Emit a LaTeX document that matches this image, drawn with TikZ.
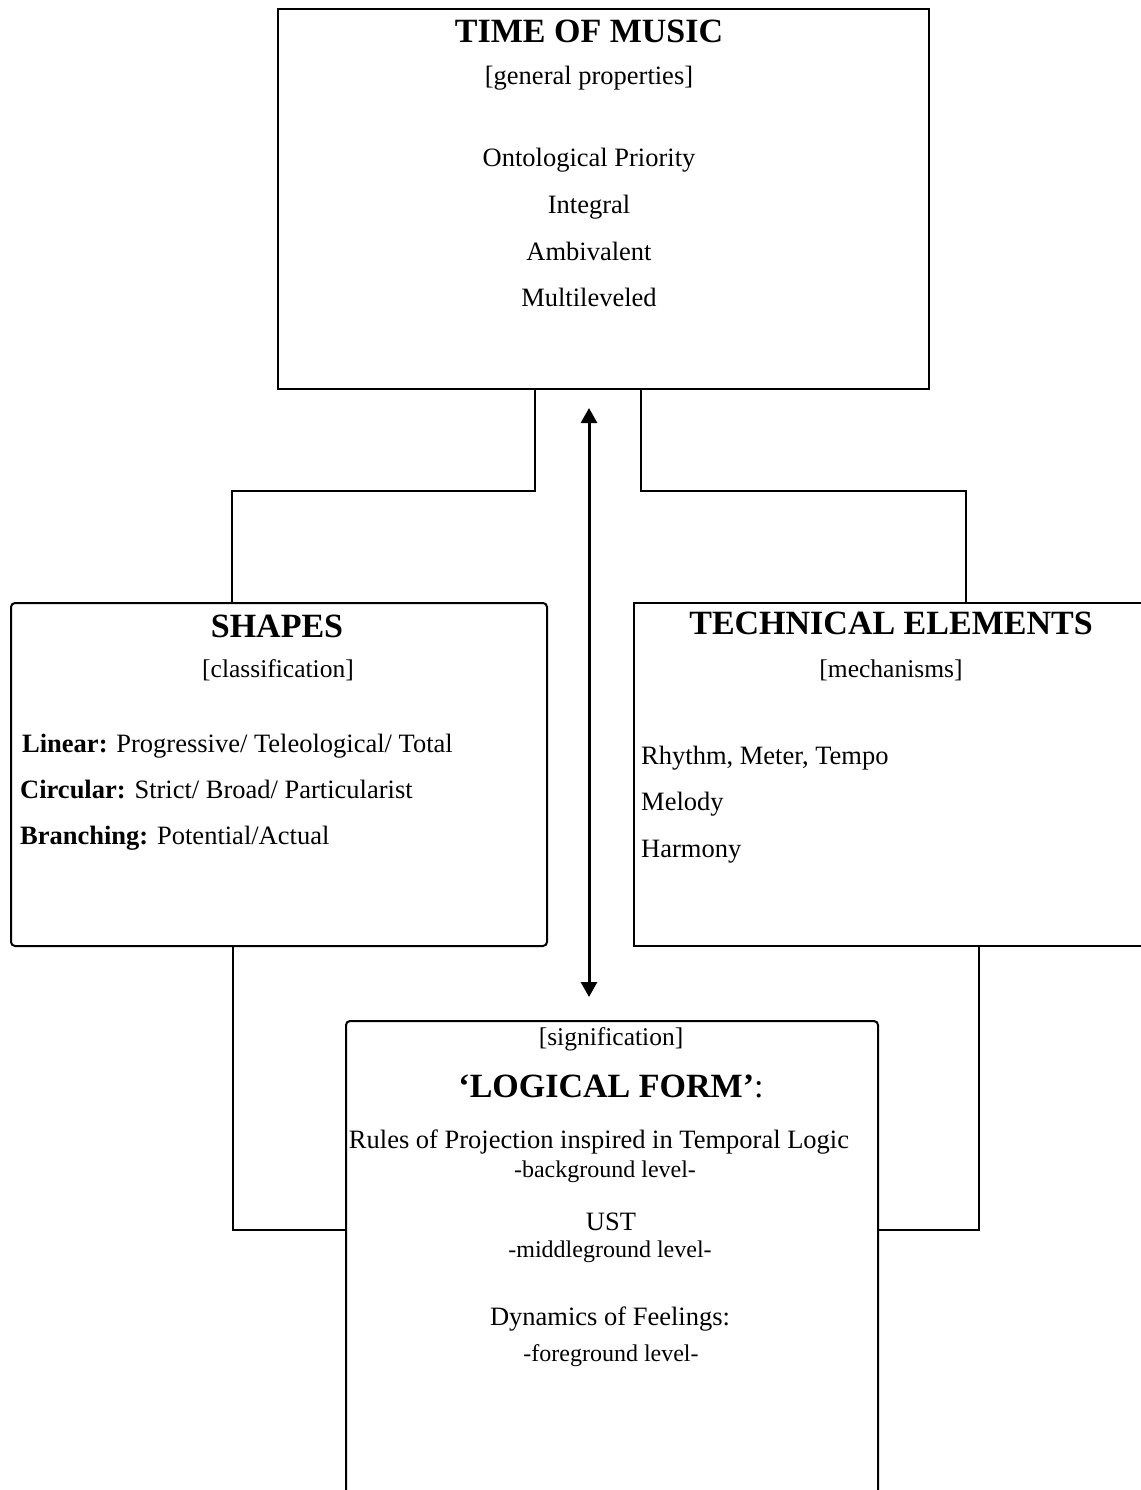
\documentclass[tikz,border=0pt]{standalone}
\usepackage{fontspec}
\setmainfont{Liberation Serif}
\usetikzlibrary{arrows.meta}
\begin{document}
\begin{tikzpicture}[x=1pt,y=-1pt,
  box/.style={draw, line width=2pt, inner sep=0pt, anchor=north west},
  rbox/.style={box, rounded corners=4pt},
  ttl/.style={font=\fontsize{34}{40}\selectfont\bfseries, anchor=base, inner sep=0pt},
  body/.style={font=\fontsize{26.5}{30}\selectfont, anchor=base, inner sep=0pt},
  sub/.style={font=\fontsize{25.5}{30}\selectfont, anchor=base, inner sep=0pt},
  bodyl/.style={body, anchor=base west},
  small/.style={font=\fontsize{24}{28}\selectfont, anchor=base, inner sep=0pt},
  conn/.style={line width=2pt}]
\useasboundingbox (0,0) rectangle (1140,1490);

% boxes
\node[box, minimum width=651pt, minimum height=380pt] (top) at (277,8) {};
\node[rbox, minimum width=536pt, minimum height=343pt] (shapes) at (10,602) {};
\node[box, minimum width=530pt, minimum height=343pt] (tech) at (633,602) {};
\node[rbox, minimum width=532pt, minimum height=500pt] (lf) at (345,1020) {};

% top box text
\node[ttl] (t1) at (589,43) {TIME OF MUSIC};
\node[body] (t2) at (589,85) {[general properties]};
\node[body] (t3) at (589,167) {Ontological Priority};
\node[body] (t4) at (589,213) {Integral};
\node[body] (t5) at (589,260) {Ambivalent};
\node[body] (t6) at (589,306) {Multileveled};

% shapes text
\node[ttl] (s1) at (277,637) {SHAPES};
\node[sub] (s2) at (278,677) {[classification]};
\node[bodyl] (s3) at (22,752) {\textbf{Linear:} Progressive/ Teleological/ Total};
\node[bodyl] (s4) at (20,798) {\textbf{Circular:} Strict/ Broad/ Particularist};
\node[bodyl] (s5) at (20,844) {\textbf{Branching:} Potential/Actual};

% technical text
\node[ttl] (e1) at (891,634) {TECHNICAL ELEMENTS};
\node[sub] (e2) at (891,677) {[mechanisms]};
\node[bodyl] (e3) at (641,764) {Rhythm, Meter, Tempo};
\node[bodyl] (e4) at (641,810) {Melody};
\node[bodyl] (e5) at (641,857) {Harmony};

% logical form text
\node[sub] (l1) at (611,1045) {[signification]};
\node[ttl] (l2) at (611,1097) {‘LOGICAL FORM’\textmd{:}};
\node[body] (l3) at (599,1148) {Rules of Projection inspired in Temporal Logic};
\node[small] (l4) at (605,1177) {-background level-};
\node[body] (l5) at (611,1230) {UST};
\node[small] (l6) at (610,1257) {-middleground level-};
\node[body] (l7) at (610,1325) {Dynamics of Feelings:};
\node[small] (l8) at (611,1361) {-foreground level-};

% connectors
\coordinate (tl) at (232,491);
\coordinate (tr) at (966,491);
\draw[conn] ([xshift=258pt]top.south west) |- (tl) -- (tl |- shapes.north);
\draw[conn] ([xshift=364pt]top.south west) |- (tr) -- (tr |- tech.north);

\coordinate (ljoin) at (233,1230);
\coordinate (rjoin) at (979,1230);
\draw[conn] ([xshift=223pt]shapes.south west) -- (ljoin) -- (ljoin -| lf.west);
\draw[conn] ([xshift=346pt]tech.south west) -- (rjoin) -- (rjoin -| lf.east);

\coordinate (aup) at (589,408);
\coordinate (adn) at (589,997);
\draw[line width=3pt, {Triangle[length=15pt,width=16pt]}-{Triangle[length=15pt,width=16pt]}] (aup) -- (adn);
\end{tikzpicture}
\end{document}
